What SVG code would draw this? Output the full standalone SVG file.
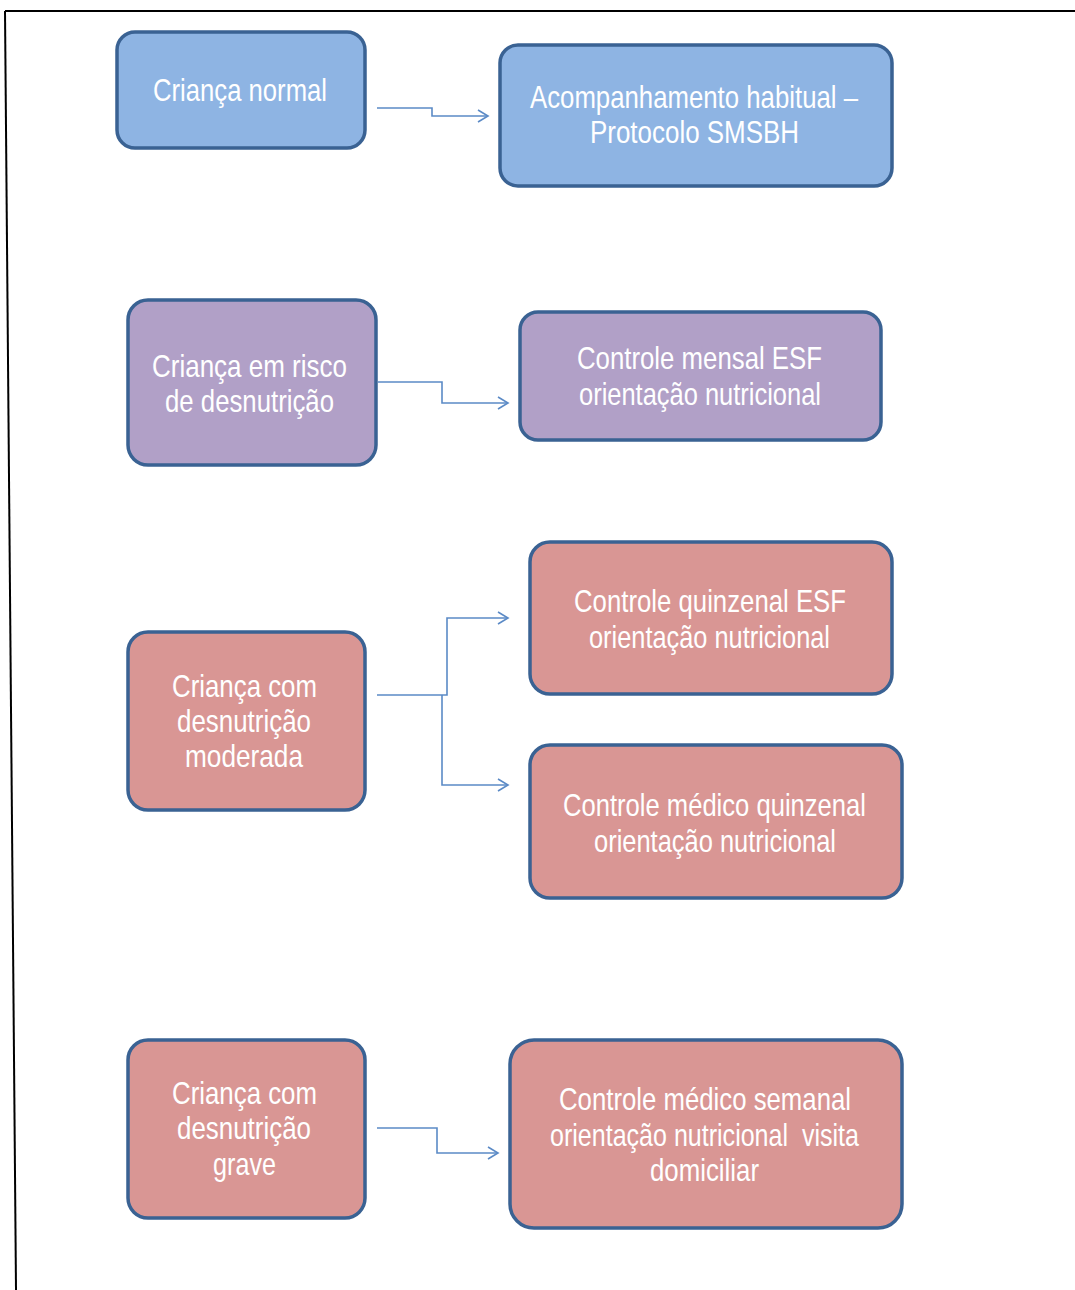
<svg xmlns="http://www.w3.org/2000/svg" width="1075" height="1290" viewBox="0 0 1075 1290">
<defs>
<style>
.box{stroke:#3A6293;stroke-width:3.5}
.blue{fill:#8EB4E3}
.purple{fill:#B1A0C7}
.red{fill:#D99694}
.t{fill:#FFFFFF;font-family:"Liberation Sans",Arial,sans-serif;font-size:32px;text-anchor:middle}
.c{fill:none;stroke:#5B8AC6;stroke-width:1.6}
</style>
<marker id="ah" markerWidth="14" markerHeight="14" refX="12" refY="7" orient="auto" markerUnits="userSpaceOnUse">
<path d="M2,1 L12,7 L2,13" fill="none" stroke="#5B8AC6" stroke-width="1.6"/>
</marker>
</defs>
<rect width="1075" height="1290" fill="#FFFFFF"/>
<g id="frame">
<line x1="5" y1="11" x2="1075" y2="11" stroke="#000" stroke-width="2"/>
<line x1="5" y1="11" x2="16" y2="1290" stroke="#000" stroke-width="2"/>
</g>
<g id="connectors">
<path class="c" d="M377,108 H432 V116 H488" marker-end="url(#ah)"/>
<path class="c" d="M378,382 H442 V403 H508" marker-end="url(#ah)"/>
<path class="c" d="M377,695 H447 V618 H508" marker-end="url(#ah)"/>
<path class="c" d="M442,695 V785 H508" marker-end="url(#ah)"/>
<path class="c" d="M377,1128 H437 V1153 H498" marker-end="url(#ah)"/>
</g>
<g id="n1">
<rect class="box blue" x="117" y="32" width="248" height="116" rx="18"/>
<text class="t" x="240" y="101" textLength="174" lengthAdjust="spacingAndGlyphs">Criança normal</text>
</g>
<g id="n2">
<rect class="box blue" x="500" y="45" width="392" height="141" rx="18"/>
<text class="t" x="694" y="108" textLength="328" lengthAdjust="spacingAndGlyphs">Acompanhamento habitual –</text>
<text class="t" x="694.5" y="143" textLength="209" lengthAdjust="spacingAndGlyphs">Protocolo SMSBH</text>
</g>
<g id="n3">
<rect class="box purple" x="128" y="300" width="248" height="165" rx="20"/>
<text class="t" x="249.5" y="377" textLength="195" lengthAdjust="spacingAndGlyphs">Criança em risco</text>
<text class="t" x="249.5" y="412" textLength="169" lengthAdjust="spacingAndGlyphs">de desnutrição</text>
</g>
<g id="n4">
<rect class="box purple" x="520" y="312" width="361" height="128" rx="18"/>
<text class="t" x="699.5" y="369" textLength="245" lengthAdjust="spacingAndGlyphs">Controle mensal ESF</text>
<text class="t" x="700" y="405" textLength="242" lengthAdjust="spacingAndGlyphs">orientação nutricional</text>
</g>
<g id="n5">
<rect class="box red" x="128" y="632" width="237" height="178" rx="20"/>
<text class="t" x="244.5" y="697" textLength="145" lengthAdjust="spacingAndGlyphs">Criança com</text>
<text class="t" x="244" y="732" textLength="134" lengthAdjust="spacingAndGlyphs">desnutrição</text>
<text class="t" x="244" y="767" textLength="118" lengthAdjust="spacingAndGlyphs">moderada</text>
</g>
<g id="n6">
<rect class="box red" x="530" y="542" width="362" height="152" rx="20"/>
<text class="t" x="710" y="612" textLength="272" lengthAdjust="spacingAndGlyphs">Controle quinzenal ESF</text>
<text class="t" x="709.5" y="648" textLength="241" lengthAdjust="spacingAndGlyphs">orientação nutricional</text>
</g>
<g id="n7">
<rect class="box red" x="530" y="745" width="372" height="153" rx="20"/>
<text class="t" x="714.5" y="816" textLength="303" lengthAdjust="spacingAndGlyphs">Controle médico quinzenal</text>
<text class="t" x="715" y="852" textLength="242" lengthAdjust="spacingAndGlyphs">orientação nutricional</text>
</g>
<g id="n8">
<rect class="box red" x="128" y="1040" width="237" height="178" rx="20"/>
<text class="t" x="244.5" y="1104" textLength="145" lengthAdjust="spacingAndGlyphs">Criança com</text>
<text class="t" x="244" y="1139" textLength="134" lengthAdjust="spacingAndGlyphs">desnutrição</text>
<text class="t" x="244.5" y="1175" textLength="63" lengthAdjust="spacingAndGlyphs">grave</text>
</g>
<g id="n9">
<rect class="box red" x="510" y="1040" width="392" height="188" rx="24"/>
<text class="t" x="705" y="1110" textLength="292" lengthAdjust="spacingAndGlyphs">Controle médico semanal</text>
<text class="t" x="704.5" y="1146" textLength="309" lengthAdjust="spacingAndGlyphs" style="white-space:pre">orientação nutricional  visita</text>
<text class="t" x="704.5" y="1181" textLength="109" lengthAdjust="spacingAndGlyphs">domiciliar</text>
</g>
</svg>
